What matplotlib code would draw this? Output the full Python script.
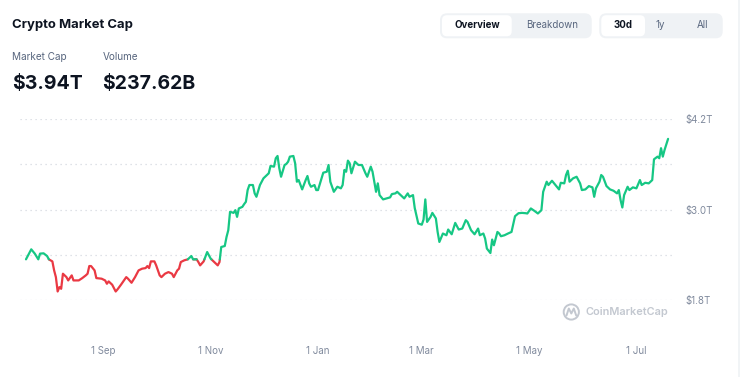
import numpy as np
import matplotlib
matplotlib.use("Agg")
import matplotlib.pyplot as plt
import matplotlib.dates as mdates
from matplotlib.patches import FancyBboxPatch, Circle

plt.rcParams['font.family'] = ['Inter', 'DejaVu Sans']

# ---------------- data ----------------
start_date = "2024-07-19"
days = [0, 3, 5, 7, 8, 10, 12, 13, 15, 16, 17, 18, 19, 20, 21, 22, 23, 24, 26, 27, 30, 32, 34, 35, 36, 37,
        39, 40, 43, 45, 46, 47, 49, 51, 52, 54, 57, 58, 60, 62, 64, 66, 68, 69, 70, 71, 73, 74, 76, 77, 79,
        81, 83, 84, 86, 87, 88, 90, 92, 94, 95, 97, 98, 99, 101, 103, 105, 106, 109, 110, 111, 113, 114,
        115, 116, 118, 119, 120, 121, 123, 124, 125, 126, 127, 129, 130, 131, 133, 134, 135, 137, 138, 139,
        141, 142, 143, 144, 145, 147, 148, 149, 150, 152, 153, 154, 155, 157, 159, 160, 161, 162, 164, 165,
        166, 169, 171, 172, 173, 175, 177, 179, 180, 181, 182, 183, 184, 185, 187, 189, 191, 193, 194, 196,
        197, 199, 200, 201, 203, 205, 207, 208, 210, 211, 213, 215, 217, 218, 220, 221, 223, 225, 226, 227,
        228, 230, 231, 233, 234, 235, 237, 239, 240, 242, 243, 244, 246, 248, 250, 251, 253, 255, 257, 258,
        260, 261, 262, 264, 265, 266, 268, 269, 270, 272, 274, 276, 278, 280, 282, 284, 285, 287, 289, 291,
        293, 294, 296, 297, 299, 301, 303, 304, 306, 307, 308, 309, 311, 313, 315, 316, 318, 320, 322, 323,
        324, 326, 327, 328, 330, 332, 334, 336, 337, 338, 339, 340, 342, 343, 345, 347, 349, 350, 352, 354,
        356, 357, 359, 360, 361, 362, 363, 365]
mcap_trillion = [2.34, 2.473, 2.416, 2.34, 2.416, 2.42, 2.384, 2.34, 2.313, 2.193, 2.104, 1.913, 1.971, 1.949,
                 2.149, 2.127, 2.104, 2.06, 2.127, 2.06, 2.06, 2.091, 2.127, 2.149, 2.251, 2.251, 2.193, 2.091,
                 2.083, 2.06, 2.016, 2.047, 2.003, 1.913, 1.94, 2.003, 2.104, 2.083, 2.029, 2.104, 2.193, 2.216,
                 2.224, 2.251, 2.224, 2.313, 2.313, 2.26, 2.127, 2.104, 2.149, 2.171, 2.149, 2.104, 2.193, 2.216,
                 2.304, 2.327, 2.34, 2.384, 2.34, 2.34, 2.304, 2.26, 2.313, 2.437, 2.349, 2.327, 2.26, 2.304,
                 2.504, 2.517, 2.637, 2.727, 2.971, 2.957, 2.993, 2.904, 3.016, 3.037, 3.073, 3.104, 3.26, 3.327,
                 3.327, 3.216, 3.171, 3.327, 3.371, 3.416, 3.46, 3.483, 3.58, 3.571, 3.683, 3.713, 3.549, 3.437,
                 3.593, 3.607, 3.637, 3.704, 3.713, 3.616, 3.371, 3.393, 3.269, 3.393, 3.447, 3.349, 3.304, 3.327,
                 3.26, 3.26, 3.491, 3.504, 3.593, 3.371, 3.237, 3.304, 3.283, 3.327, 3.527, 3.504, 3.651, 3.616,
                 3.483, 3.637, 3.593, 3.593, 3.483, 3.437, 3.571, 3.504, 3.237, 3.349, 3.193, 3.136, 3.149, 3.163,
                 3.207, 3.216, 3.237, 3.193, 3.149, 3.216, 3.171, 3.193, 3.02, 2.816, 2.8, 2.869, 3.136, 2.837,
                 2.904, 2.957, 2.883, 2.704, 2.571, 2.683, 2.66, 2.736, 2.673, 2.749, 2.824, 2.736, 2.749, 2.86,
                 2.837, 2.727, 2.673, 2.749, 2.66, 2.683, 2.616, 2.483, 2.424, 2.603, 2.527, 2.704, 2.683, 2.647,
                 2.66, 2.683, 2.704, 2.913, 2.953, 2.957, 2.953, 2.949, 3.016, 2.984, 2.949, 2.993, 3.237, 3.371,
                 3.327, 3.384, 3.327, 3.269, 3.357, 3.349, 3.46, 3.517, 3.371, 3.416, 3.437, 3.349, 3.26, 3.269,
                 3.313, 3.296, 3.171, 3.283, 3.371, 3.46, 3.437, 3.313, 3.269, 3.251, 3.216, 3.26, 3.127, 3.029,
                 3.193, 3.304, 3.26, 3.296, 3.283, 3.393, 3.327, 3.357, 3.349, 3.393, 3.669, 3.704, 3.683, 3.816,
                 3.704, 3.793, 3.94]
y_ticks = [1.8, 2.4, 3.0, 3.6, 4.2]
y_tick_labels = ["$1.8T", "", "$3.0T", "", "$4.2T"]
x_tick_dates = ["2024-09-01", "2024-11-01", "2025-01-01", "2025-03-01", "2025-05-01", "2025-07-01"]
x_tick_labels = ["1 Sep", "1 Nov", "1 Jan", "1 Mar", "1 May", "1 Jul"]
title = "Crypto Market Cap"
stat_labels = ["Market Cap", "Volume"]
stat_values = ["$3.94T", "$237.62B"]

GREEN = "#16c784"
RED = "#ea3943"
DARK = "#0d1421"
GRAY = "#58667e"
TICK = "#808a9d"

W, H = 741, 377
fig = plt.figure(figsize=(W / 100, H / 100), dpi=100)
fig.patch.set_facecolor("white")

# overlay in pixel coordinates (for header widgets)
ov = fig.add_axes([0, 0, 1, 1], zorder=0)
ov.set_xlim(0, W)
ov.set_ylim(H, 0)
ov.axis("off")

# main chart axes
L, R, T, B = 20, 673, 119.3, 300
ax = fig.add_axes([L / W, 1 - B / H, (R - L) / W, (B - T) / H], zorder=1)
ax.patch.set_alpha(0)

t0 = mdates.date2num(np.datetime64(start_date))
x = t0 + np.array(days, dtype=float)
y = np.array(mcap_trillion, dtype=float)
base = y[0]

xs, ys = [x[0]], [y[0]]
for i in range(1, len(x)):
    y0, y1 = y[i - 1], y[i]
    if (y0 - base) * (y1 - base) < 0:
        tt = (base - y0) / (y1 - y0)
        xs.append(x[i - 1] + tt * (x[i] - x[i - 1]))
        ys.append(base)
    xs.append(x[i])
    ys.append(y[i])
xs = np.array(xs)
ys = np.array(ys)
above = np.where(ys >= base - 1e-9, ys, np.nan)
below = np.where(ys <= base + 1e-9, ys, np.nan)
ax.plot(xs, below, color=RED, lw=1.6, solid_joinstyle="round", solid_capstyle="round", zorder=3)
ax.plot(xs, above, color=GREEN, lw=1.6, solid_joinstyle="round", solid_capstyle="round", zorder=3)

ax.set_ylim(1.8, 4.2)
ax.set_xlim(t0 - 3.4, t0 + 367.8)
ax.set_yticks(y_ticks)
ax.set_yticklabels(y_tick_labels)
ax.yaxis.tick_right()
ax.set_xticks([mdates.date2num(np.datetime64(d)) for d in x_tick_dates])
ax.set_xticklabels(x_tick_labels)
ax.tick_params(axis="y", length=0, pad=9, labelsize=7, labelcolor=TICK)
ax.tick_params(axis="x", length=0, pad=33, labelsize=7, labelcolor=TICK)
for s in ax.spines.values():
    s.set_visible(False)
ax.grid(axis="y", color="#d5d9e0", lw=0.9, linestyle=(0, (1, 3)))
ax.grid(axis="x", visible=False)
ax.set_axisbelow(True)

# header
ov.text(12, 25, title, fontsize=9.4, fontweight="bold", color=DARK, va="center", ha="left")
ov.text(12.5, 57.5, stat_labels[0], fontsize=7.2, color=GRAY, va="center", ha="left")
ov.text(103, 57.5, stat_labels[1], fontsize=7.2, color=GRAY, va="center", ha="left")
ov.text(12, 84, stat_values[0], fontsize=14, fontweight="bold", color=DARK, va="center", ha="left")
ov.text(102.5, 84, stat_values[1], fontsize=14, fontweight="bold", color=DARK, va="center", ha="left")

def rbox(x0, y0, x1, y1, color, r=6):
    p = FancyBboxPatch((x0, y0), x1 - x0, y1 - y0,
                       boxstyle=f"round,pad=0,rounding_size={r}",
                       fc=color, ec="none", zorder=1)
    ov.add_patch(p)

rbox(440, 13.3, 591.7, 38.3, "#eff2f5", 7)
rbox(442, 15.2, 511.7, 36.3, "white", 5)
ov.text(477, 25.5, "Overview", fontsize=7, fontweight="bold", color=DARK, ha="center", va="center", zorder=2)
ov.text(552.5, 25.5, "Breakdown", fontsize=7, color=GRAY, ha="center", va="center", zorder=2)

rbox(599.3, 13.3, 722.7, 38.3, "#eff2f5", 7)
rbox(601.3, 15.2, 645, 36.3, "white", 5)
ov.text(623.3, 25.5, "30d", fontsize=7, fontweight="bold", color=DARK, ha="center", va="center", zorder=2)
ov.text(660, 25.5, "1y", fontsize=7, color=GRAY, ha="center", va="center", zorder=2)
ov.text(702.7, 25.5, "All", fontsize=7, color=GRAY, ha="center", va="center", zorder=2)

# watermark
WM = "#c3c8d0"
ov.add_patch(Circle((571.3, 312), 7.6, fill=False, ec=WM, lw=1.4, zorder=2))
ov.plot([566.5, 568.8, 571.3, 573.8, 576.2], [315.5, 308.5, 313.5, 308.5, 315.5],
        color=WM, lw=1.4, solid_joinstyle="round", solid_capstyle="round", zorder=2)
ov.text(585, 312, "CoinMarketCap", fontsize=7.9, fontweight="semibold", color=WM,
        ha="left", va="center", zorder=2)

# right card border
ov.plot([738.5, 738.5], [0, H], color="#eff2f5", lw=1.2, zorder=1)

fig.savefig("out.png", dpi=100, facecolor="white")
